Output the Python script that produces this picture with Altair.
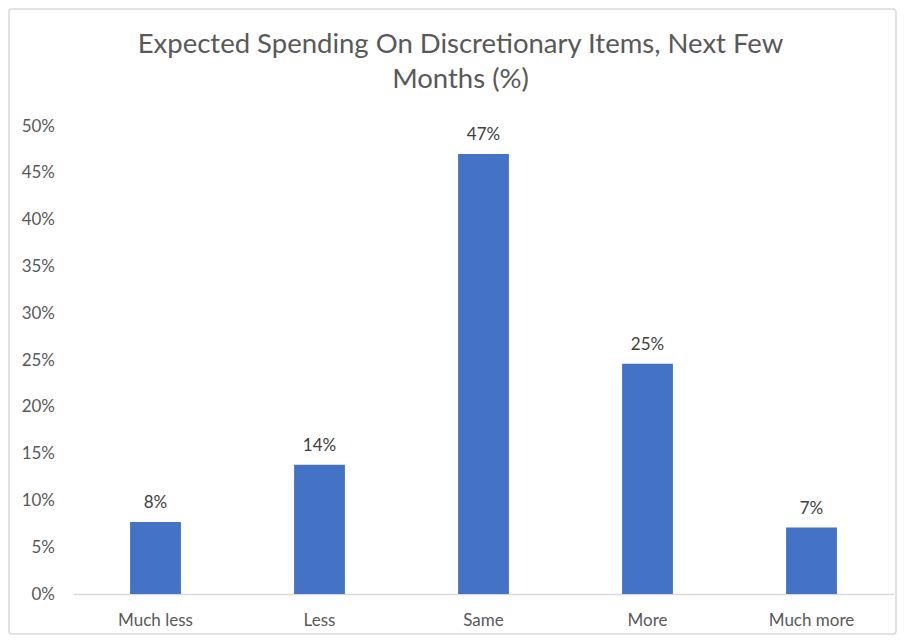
import altair as alt
import pandas as pd

categories = ["Much less", "Less", "Same", "More", "Much more"]
values = [0.077, 0.138, 0.470, 0.246, 0.071]
labels = ["8%", "14%", "47%", "25%", "7%"]
y_ticks = [0, 0.05, 0.10, 0.15, 0.20, 0.25, 0.30, 0.35, 0.40, 0.45, 0.50]
title_lines = ["Expected Spending On Discretionary Items, Next Few", "Months (%)"]

df = pd.DataFrame({"cat": categories, "val": values, "lab": labels})

FONT = "Lato"
FS = 17
W, H = 820, 468

x = alt.X("cat:N", sort=categories, title=None,
          scale=alt.Scale(paddingInner=0.69, paddingOuter=0.345),
          axis=alt.Axis(labelAngle=0, ticks=False, domainColor="#d9d9d9", domainWidth=1.3,
                        labelPadding=18, labelFontSize=FS, labelColor="#595959",
                        labelFont=FONT, grid=False))
y = alt.Y("val:Q", title=None,
          scale=alt.Scale(domain=[0, 0.5], nice=False),
          axis=alt.Axis(values=y_ticks, format=".0%", domain=False, ticks=False, grid=False,
                        labelPadding=19, labelFontSize=FS, labelColor="#595959", labelFont=FONT))

bars = alt.Chart(df).mark_bar(color="#4472C4").encode(x=x, y=y)
text = alt.Chart(df).mark_text(baseline="alphabetic", dy=-14, fontSize=FS, color="#404040",
                               font=FONT).encode(x=alt.X("cat:N", sort=categories), y="val:Q",
                                                 text="lab:N")

border = alt.Chart(pd.DataFrame({"a": [0]})).mark_rect(
    fillOpacity=0, stroke="#d9d9d9", strokeWidth=1.5, cornerRadius=3
).encode(x=alt.value(-64.5), x2=alt.value(822.5), y=alt.value(-117), y2=alt.value(508))

chart = alt.layer(border, bars, text).properties(
    width=W, height=H,
    title=alt.TitleParams(text=title_lines, fontSize=27.5, font=FONT, color="#595959",
                          fontWeight="normal", lineHeight=35, anchor="middle", frame="group",
                          baseline="top", dx=-23, dy=85, offset=0),
    autosize=alt.AutoSizeParams(type="none"),
    padding={"left": 65.5, "top": 118, "right": 3.5, "bottom": 41},
).configure_view(stroke=None)

chart.save("out.html", embed_options={"renderer": "svg", "actions": False})
